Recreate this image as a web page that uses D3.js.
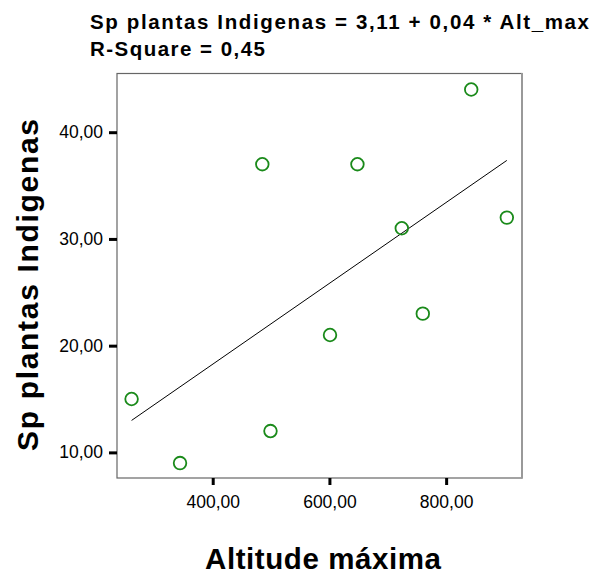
<!DOCTYPE html>
<html><head><meta charset="utf-8">
<script src="https://cdn.jsdelivr.net/npm/d3@7"></script>
<style>body{margin:0;background:#fff}svg{display:block}text{font-family:"Liberation Sans",Arial,sans-serif}</style>
</head><body>
<svg id="c" width="593" height="575"></svg>
<script>
const altitude = [261, 344, 485, 499, 601, 648, 724, 843, 904, 760];
const species  = [15, 9, 37, 12, 21, 37, 31, 44, 32, 23];
const xTicks = [400, 600, 800];
const yTicks = [10, 20, 30, 40];
const titleLines = ["Sp plantas Indigenas = 3,11 + 0,04 * Alt_max", "R-Square = 0,45"];
const xTitle = "Altitude máxima";
const yTitle = "Sp plantas Indigenas";

const svg = d3.select("#c");
const L = 117, R = 522, T = 73.5, B = 478;
const x = d3.scaleLinear().domain([236, 930]).range([L, R]);
const y = d3.scaleLinear().domain([7.6, 45.5]).range([B, T]);
const fmt = v => d3.format(".2f")(v).replace(".", ",");

// plot frame
svg.append("rect").attr("x", L).attr("y", T).attr("width", R - L).attr("height", B - T)
  .attr("fill", "#fff").attr("stroke", "#666").attr("stroke-width", 1.2);
svg.append("line").attr("x1", R).attr("x2", R).attr("y1", T - 0.5).attr("y2", B + 0.5)
  .attr("stroke", "#999").attr("stroke-width", 2);

// axes
const xAxis = d3.axisBottom(x).tickValues(xTicks).tickFormat(fmt).tickSize(7).tickPadding(11);
const gx = svg.append("g").attr("transform", `translate(0,${B})`).call(xAxis);
gx.select(".domain").remove();
gx.selectAll(".tick line").attr("stroke", "#000").attr("stroke-width", 3);
gx.selectAll(".tick text").attr("font-size", 17.5).attr("fill", "#000")
  .attr("font-family", '"Liberation Sans",Arial,sans-serif');

const yAxis = d3.axisLeft(y).tickValues(yTicks).tickFormat(fmt).tickSize(8).tickPadding(6);
const gy = svg.append("g").attr("transform", `translate(${L},0)`).call(yAxis);
gy.select(".domain").remove();
gy.selectAll(".tick line").attr("stroke", "#000").attr("stroke-width", 3);
gy.selectAll(".tick text").attr("font-size", 17.5).attr("fill", "#000")
  .attr("font-family", '"Liberation Sans",Arial,sans-serif');

// regression line (least squares from the data)
const mx = d3.mean(altitude), my = d3.mean(species);
const slope = d3.sum(altitude, (a, i) => (a - mx) * (species[i] - my)) / d3.sum(altitude, a => (a - mx) ** 2);
const icpt = my - slope * mx;
const ext = d3.extent(altitude);
svg.append("line")
  .attr("x1", x(ext[0])).attr("y1", y(icpt + slope * ext[0]))
  .attr("x2", x(ext[1])).attr("y2", y(icpt + slope * ext[1]))
  .attr("stroke", "#000").attr("stroke-width", 1);

// points
svg.append("g").selectAll("circle").data(altitude).join("circle")
  .attr("cx", d => x(d)).attr("cy", (d, i) => y(species[i])).attr("r", 6.3)
  .attr("fill", "none").attr("stroke", "#1a8a1a").attr("stroke-width", 1.8);

// titles
svg.append("text").attr("x", 90).attr("y", 29).attr("font-weight", "bold").attr("font-size", 20.5)
  .attr("textLength", 499).attr("lengthAdjust", "spacing").text(titleLines[0]);
svg.append("text").attr("x", 90).attr("y", 56).attr("font-weight", "bold").attr("font-size", 20.5)
  .attr("textLength", 175).attr("lengthAdjust", "spacing").text(titleLines[1]);

svg.append("text").attr("x", 323).attr("y", 569).attr("text-anchor", "middle")
  .attr("font-weight", "bold").attr("font-size", 29.5).attr("textLength", 236).attr("lengthAdjust", "spacing")
  .text(xTitle);
svg.append("text").attr("transform", `translate(38,285) rotate(-90)`)
  .attr("text-anchor", "middle").attr("font-weight", "bold").attr("font-size", 30)
  .attr("textLength", 332).attr("lengthAdjust", "spacing").text(yTitle);
</script>
</body></html>
